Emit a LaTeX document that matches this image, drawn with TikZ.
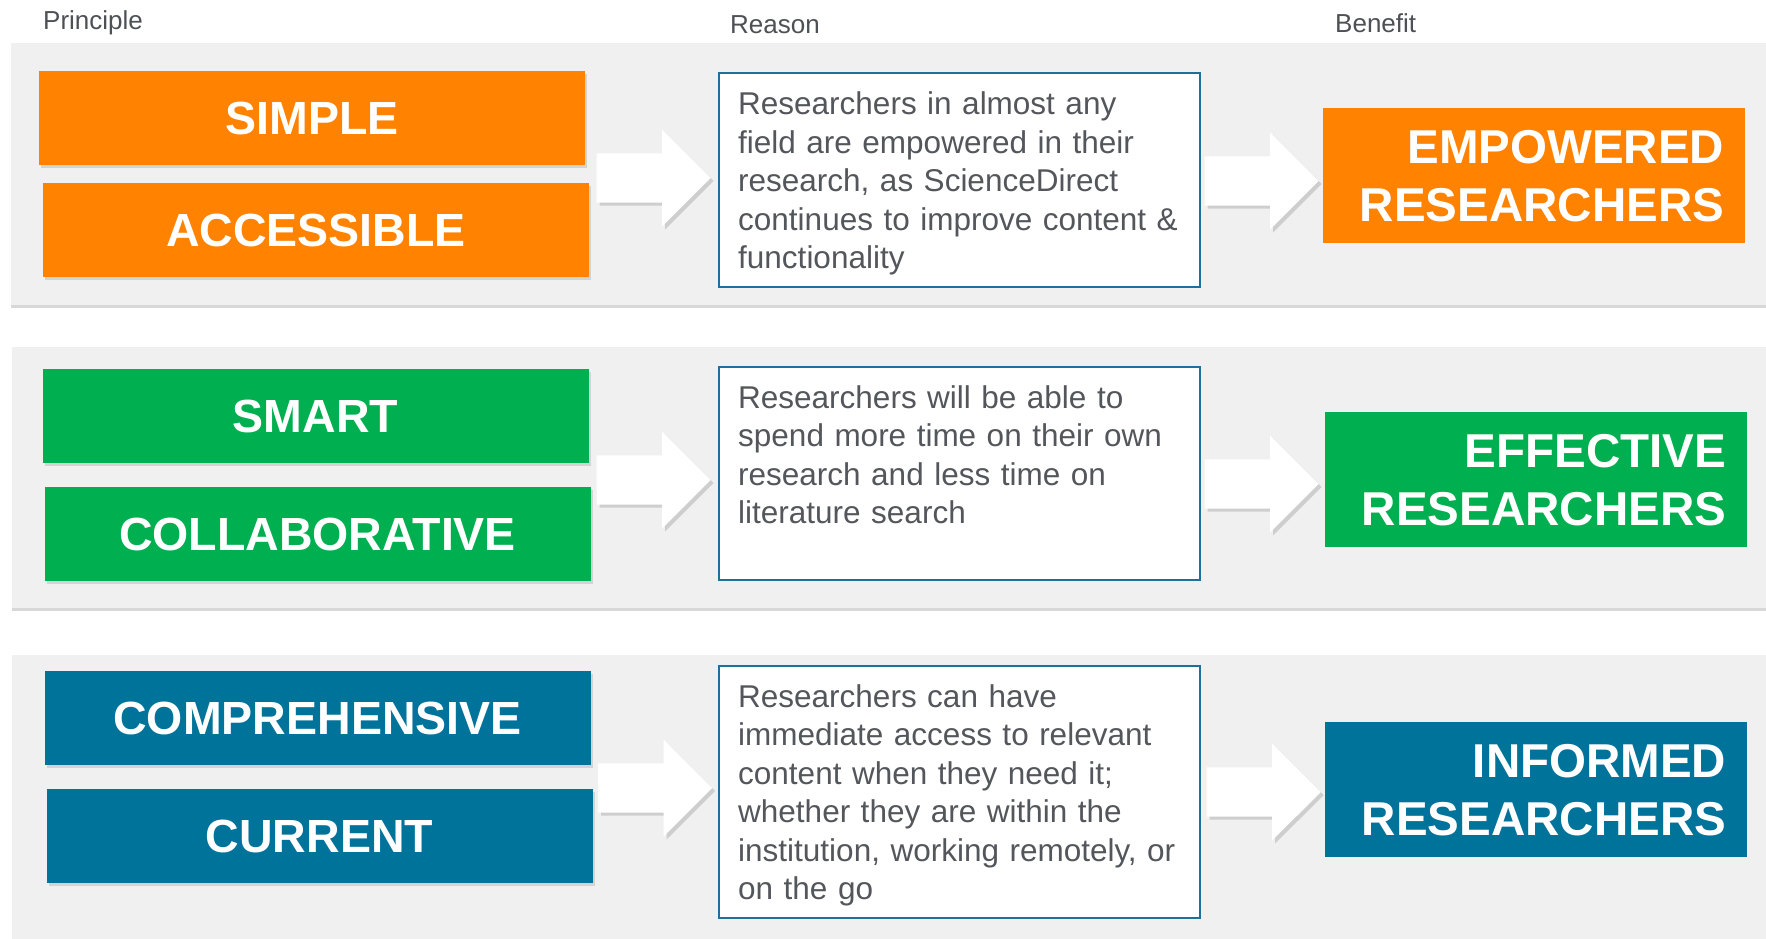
\documentclass[tikz,border=0pt]{standalone}
\usepackage{fontspec}
\setmainfont{Liberation Sans}
\usetikzlibrary{positioning,calc,shapes.arrows,shadows}
\definecolor{fondo}{HTML}{F0F0F0}
\definecolor{naranja}{HTML}{FF8200}
\definecolor{verde}{HTML}{00B050}
\definecolor{azul}{HTML}{00739A}
\definecolor{borde}{HTML}{1C7099}
\definecolor{tinta}{HTML}{53575B}
\definecolor{rotulo}{HTML}{4D5055}

\begin{document}
\begin{tikzpicture}[x=1pt, y=-1pt,
  banda/.style={fill=fondo, drop shadow={shadow xshift=0pt, shadow yshift=-3pt, opacity=0.3}},
  principio/.style={fill=#1, text=white, inner sep=0pt, minimum width=546pt, minimum height=94pt,
    font=\fontsize{46.5}{56}\selectfont\bfseries, drop shadow={shadow xshift=2pt, shadow yshift=-3pt, opacity=0.25}},
  razon/.style={draw=borde, line width=2pt, fill=white, minimum width=481pt, minimum height=#1, inner sep=0pt, anchor=north west},
  texto/.style={text=tinta, align=left, text width=455pt, inner sep=0pt, font=\fontsize{31.5}{38.5}\selectfont},
  beneficio/.style={fill=#1, text=white, align=right, text width=380pt, inner xsep=21pt, inner ysep=0pt,
    minimum height=135pt, anchor=north west, font=\fontsize{47.5}{58}\selectfont\bfseries},
  flecha/.style={single arrow, fill=white, minimum height=114pt, minimum width=97pt, single arrow head extend=24pt,
    inner xsep=0pt, inner ysep=24.5pt, anchor=tip, drop shadow={shadow xshift=3pt, shadow yshift=-3pt, opacity=0.3}},
  rotulo/.style={text=rotulo, font=\fontsize{26}{30}\selectfont, anchor=base west, inner sep=0pt}]

\fill[white] (0,0) rectangle (1766,938);
\useasboundingbox (0,0) rectangle (1766,938);

% ================= encabezados =================
\node[rotulo] (hprin) at (43,29.3) {Principle};
\node[rotulo] (hraz) at (730,33.3) {Reason};
\node[rotulo] (hben) at (1335,32.3) {Benefit};

% ================= bandas de fondo =================
\path[banda] (11,43) rectangle (1766,305);
\path[banda] (12,347) rectangle (1766,608);
\path[banda] (12,655) rectangle (1766,945);

% ================= fila 1 (naranja) =================
\node[principio=naranja] (simple) at (312,118) {SIMPLE};
\node[principio=naranja, below=18pt of simple, xshift=4pt] (accesible) {ACCESSIBLE};
\node[razon=214pt] (r1) at (718,72) {};
\node[texto, below right=19.5pt and 20pt of r1.north west] (t1)
 {Researchers in almost any\\ field are empowered in their\\ research, as ScienceDirect\\ continues to improve content \&\\ functionality};
\node[beneficio=naranja] (b1) at (1323,108) {EMPOWERED\\ RESEARCHERS};
\node[flecha] (f11) at (711,178) {};
\node[flecha] (f12) at (1319,181) {};

% ================= fila 2 (verde) =================
\node[principio=verde] (smart) at (315.5,416) {SMART};
\node[principio=verde, below=24pt of smart, xshift=2pt] (colab) {COLLABORATIVE};
\node[razon=213pt] (r2) at (718,366) {};
\node[texto, below right=19pt and 20pt of r2.north west] (t2)
 {Researchers will be able to\\ spend more time on their own\\ research and less time on\\ literature search};
\node[beneficio=verde] (b2) at (1325,412) {EFFECTIVE\\ RESEARCHERS};
\node[flecha] (f21) at (711,480) {};
\node[flecha] (f22) at (1319,484) {};

% ================= fila 3 (azul) =================
\node[principio=azul] (compr) at (317.5,718) {COMPREHENSIVE};
\node[principio=azul, below=24pt of compr, xshift=2pt] (actual) {CURRENT};
\node[razon=252pt] (r3) at (718,665) {};
\node[texto, below right=19pt and 20pt of r3.north west] (t3)
 {Researchers can have\\ immediate access to relevant\\ content when they need it;\\ whether they are within the\\ institution, working remotely, or\\ on the go};
\node[beneficio=azul] (b3) at (1325,722) {INFORMED\\ RESEARCHERS};
\node[flecha] (f31) at (712.5,788) {};
\node[flecha] (f32) at (1321,792) {};

\end{tikzpicture}
\end{document}
